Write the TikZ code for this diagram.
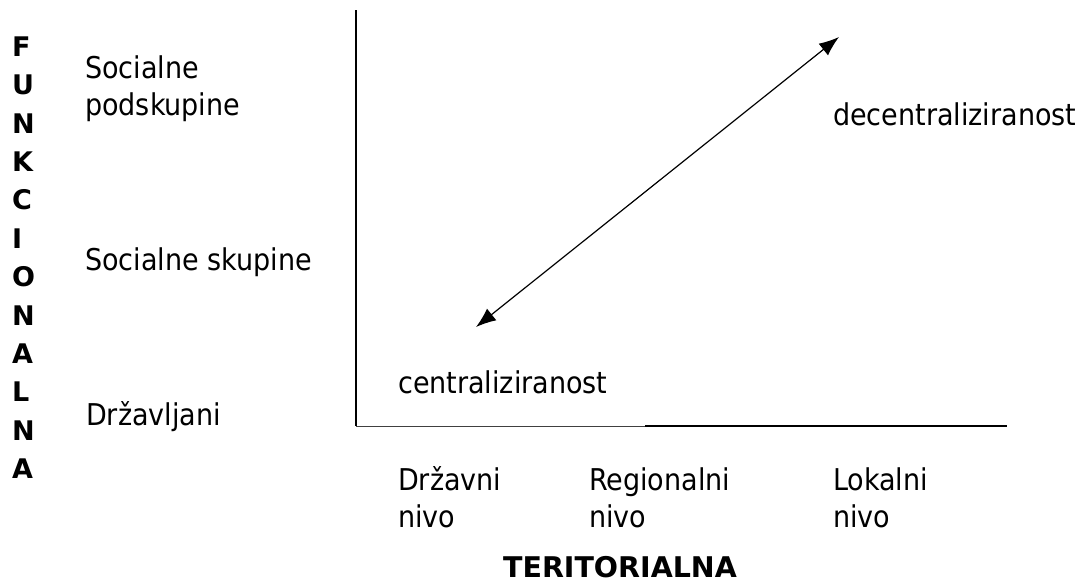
\documentclass[tikz,border=0pt]{standalone}
\usepackage{fontspec}
\setmainfont{DejaVu Sans Condensed}
\newfontfamily\heavy{DejaVu Sans}
\usepackage{tikz}
\usetikzlibrary{arrows.meta,positioning}
\tikzset{
	lbl/.style={inner sep=0pt, anchor=base west, align=left,
		font=\fontsize{30}{37}\selectfont},
	axtitle/.style={inner sep=0pt, font=\heavy\bfseries\fontsize{27}{27}\selectfont},
	axis thin/.style={line width=0.9pt, draw=black!75},
	axis thick/.style={line width=1.4pt},
	ar/.style={{Latex[length=20pt,width=15pt]}-{Latex[length=20pt,width=15pt]},
		line width=1.2pt}
}

\begin{document}
\begin{tikzpicture}[x=1pt,y=-1pt]
   \useasboundingbox (0,0) rectangle (1086,587);
   % axes
   \coordinate (ytop) at (356,10);
   \coordinate (O) at (356,426);
   \coordinate (xmid) at (645,426);
   \coordinate (xend) at (1007,426);
   \draw[axis thick] (ytop) -- (O);
   \draw[axis thin] (O) -- (xmid);
   \draw[axis thick] (xmid) -- (xend);
   % vertical axis title
   \foreach \ch [count=\i from 0] in {F,U,N,K,C,I,O,N,A,L,N,A}
      \node[axtitle, anchor=west] (fn\i) at (12,46.5+38.4*\i) {\ch};
   % levels, functional (base = last line)
   \node[lbl] (podsk)  at (85,115) {Socialne\\podskupine};
   \node[lbl] (skup)   at (85,270) {Socialne skupine};
   \node[lbl] (drzlj)  at (86,425) {Državljani};
   % levels, territorial
   \node[lbl] (drzniv) at (398,527) {Državni\\nivo};
   \node[lbl] (regniv) at (589,527) {Regionalni\\nivo};
   \node[lbl] (lokniv) at (833,527) {Lokalni\\nivo};
   \node[axtitle, anchor=base, font=\heavy\bfseries\fontsize{28.5}{28.5}\selectfont]
      (terit) at (620,577) {TERITORIALNA};
   % the two poles
   \node[lbl] (centr)   at (398,393) {centraliziranost};
   \node[lbl] (decentr) at (833,125) {decentraliziranost};
   \coordinate (lo) at (476,327);
   \coordinate (hi) at (839,37);
   \draw[ar] (lo) -- (hi);
\end{tikzpicture}
\end{document}
